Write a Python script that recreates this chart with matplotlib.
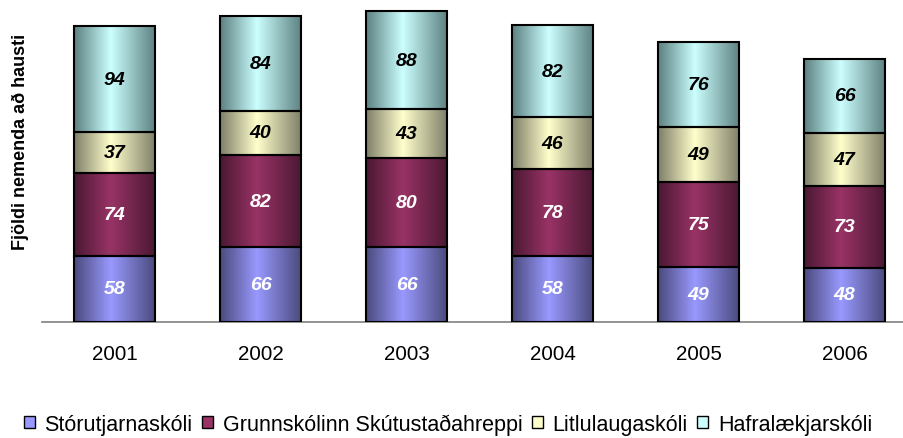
import matplotlib
matplotlib.use('Agg')
import matplotlib.pyplot as plt
import matplotlib.patches as mpatches
import numpy as np
from matplotlib.colors import LinearSegmentedColormap

plt.rcParams['font.family'] = ['Liberation Sans', 'DejaVu Sans']

# Number of pupils each autumn, per school
years = ['2001', '2002', '2003', '2004', '2005', '2006']
schools = ['Stórutjarnaskóli', 'Grunnskólinn Skútustaðahreppi',
           'Litlulaugaskóli', 'Hafralækjarskóli']
storutjarna = [58, 66, 66, 58, 49, 48]
grunnskolinn = [74, 82, 80, 78, 75, 73]
litlulauga = [37, 40, 43, 46, 49, 47]
hafralaekjar = [94, 84, 88, 82, 76, 66]
series = [storutjarna, grunnskolinn, litlulauga, hafralaekjar]

# gradient colours: light in the middle, dark at the bar edges
light = ['#9999FF', '#993366', '#FFFFCC', '#CCFFFF']
dark = ['#4A4A7C', '#4A1832', '#7E7E68', '#5C8080']
text_colors = ['white', 'white', 'black', 'black']

fig = plt.figure(figsize=(9.04, 4.39), dpi=100)
ax = fig.add_axes([41.5 / 904, 116.5 / 439, 862.5 / 904, 322.5 / 439])

x = np.arange(len(years))
bottom = np.zeros(len(years))
grad = np.linspace(0, 1, 256).reshape(1, -1)

for i, vals in enumerate(series):
    cmap = LinearSegmentedColormap.from_list(
        f'g{i}', [(0, dark[i]), (0.45, light[i]), (1, dark[i])])
    bars = ax.bar(x, vals, width=0.555, bottom=bottom, facecolor='none',
                  edgecolor='black', linewidth=1.5, zorder=3)
    for rect, v in zip(bars, vals):
        x0, y0 = rect.get_x(), rect.get_y()
        w, h = rect.get_width(), rect.get_height()
        ax.imshow(grad, cmap=cmap, extent=(x0, x0 + w, y0, y0 + h),
                  aspect='auto', zorder=2, interpolation='bilinear')
        ax.text(x0 + w / 2, y0 + h / 2, str(v), ha='center', va='center',
                fontsize=14, fontweight='bold', fontstyle='italic',
                color=text_colors[i], zorder=4)
    bottom += np.array(vals)

ax.set_xlim(-0.5, (904 - 41.5) / 146 - 0.5)
ax.set_ylim(0, 287.4)
ax.set_xticks(x)
ax.set_xticklabels(years, fontsize=14.8)
ax.set_yticks([])
ax.tick_params(axis='x', length=0, pad=16)

for side in ['left', 'top', 'right']:
    ax.spines[side].set_visible(False)
ax.spines['bottom'].set_color('#808080')
ax.spines['bottom'].set_linewidth(1.2)

fig.text(20 / 904, 1 - 142 / 439, 'Fjöldi nemenda að hausti', rotation=90,
         ha='center', va='center', fontsize=13, fontweight='bold')

handles = [mpatches.Patch(facecolor=light[i], edgecolor='black', linewidth=1,
                          label=schools[i]) for i in range(4)]
fig.legend(handles=handles, loc='center', ncol=4, frameon=False,
           bbox_to_anchor=(448 / 904, 1 - 425 / 439),
           fontsize=15.5, handlelength=0.5, handleheight=0.5,
           handletextpad=0.45, columnspacing=0.45)

fig.savefig('out.png', dpi=100)
